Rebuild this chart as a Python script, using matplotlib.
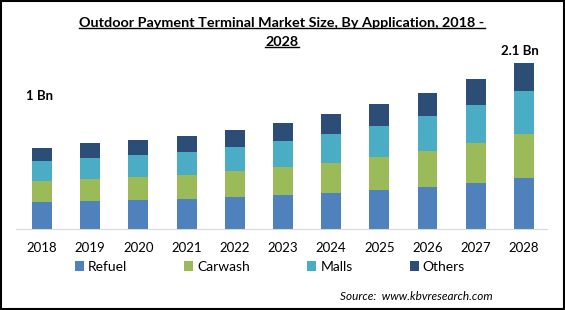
import numpy as np
import matplotlib.pyplot as plt
from matplotlib.patches import Patch, Rectangle
from matplotlib.lines import Line2D

plt.rcParams['font.family'] = ['Lato', 'DejaVu Sans']

# market size by application, USD Bn
years = ['2018', '2019', '2020', '2021', '2022', '2023', '2024', '2025', '2026', '2027', '2028']
refuel = [0.34, 0.354, 0.367, 0.380, 0.405, 0.430, 0.455, 0.493, 0.531, 0.582, 0.645]
carwash = [0.27, 0.278, 0.291, 0.304, 0.329, 0.354, 0.380, 0.417, 0.455, 0.506, 0.557]
malls = [0.25, 0.266, 0.278, 0.291, 0.304, 0.329, 0.367, 0.392, 0.443, 0.481, 0.544]
others = [0.16, 0.190, 0.190, 0.202, 0.215, 0.228, 0.253, 0.278, 0.291, 0.329, 0.354]
series_names = ['Refuel', 'Carwash', 'Malls', 'Others']
colors = ['#4f81bd', '#9bbb59', '#4bacc6', '#2c4d75']

W, H = 565, 310
fig = plt.figure(figsize=(W / 100, H / 100), dpi=100)


def fx(px):
    return px / W


def fy(py):
    return 1 - py / H


ax = fig.add_axes([fx(16), fy(229), fx(547) - fx(16), fy(40) - fy(229)])

x = np.arange(len(years))
bottom = np.zeros(len(years))
for vals, col in zip([refuel, carwash, malls, others], colors):
    ax.bar(x, vals, width=0.415, bottom=bottom, color=col)
    bottom += np.array(vals)

ax.set_xlim(-0.54, 10.48)
ax.set_ylim(0, 2.39)
for s in ['top', 'right', 'left']:
    ax.spines[s].set_visible(False)
ax.spines['bottom'].set_color('#d9d9d9')
ax.set_yticks([])
ax.set_xticks(x)
ax.set_xticklabels(years, fontsize=9.5)
ax.tick_params(axis='x', length=0, pad=9)

# value labels at both ends
ax.annotate('1 Bn', (x[0], bottom[0]), xytext=(-16, 52), textcoords='offset pixels',
            fontsize=9.5, fontweight='bold', ha='left', va='center')
ax.annotate('2.1 Bn', (x[-1], bottom[-1]), xytext=(-4, 12), textcoords='offset pixels',
            fontsize=9.5, fontweight='bold', ha='center', va='center')

# title, underlined
t1 = fig.text(fx(282), fy(23), 'Outdoor Payment Terminal Market Size, By Application, 2018 -',
              fontsize=10.4, fontweight='bold', ha='center', va='center')
t2 = fig.text(fx(282), fy(42), '2028', fontsize=10.4, fontweight='bold', ha='center', va='center')
fig.canvas.draw()
r = fig.canvas.get_renderer()
for t in [t1, t2]:
    bb = t.get_window_extent(r)
    fig.add_artist(Line2D([bb.x0 / W, bb.x1 / W], [(bb.y0 + 1) / H] * 2,
                          transform=fig.transFigure, color='black', lw=1))

handles = [Patch(facecolor=c, label=n) for c, n in zip(colors, series_names)]
fig.legend(handles=handles, loc='center', bbox_to_anchor=(fx(270), fy(267)), ncol=4,
           frameon=False, fontsize=10, handlelength=0.65, handleheight=0.65,
           handletextpad=0.3, columnspacing=4.1)

fig.text(fx(493), fy(297), 'Source:  www.kbvresearch.com', fontsize=8.5, style='italic',
         ha='right', va='center')

fig.add_artist(Rectangle((0.001, 0.002), 0.997, 0.996, transform=fig.transFigure,
                         fill=False, edgecolor='black', lw=1.5))

fig.savefig('out.png', dpi=100)
